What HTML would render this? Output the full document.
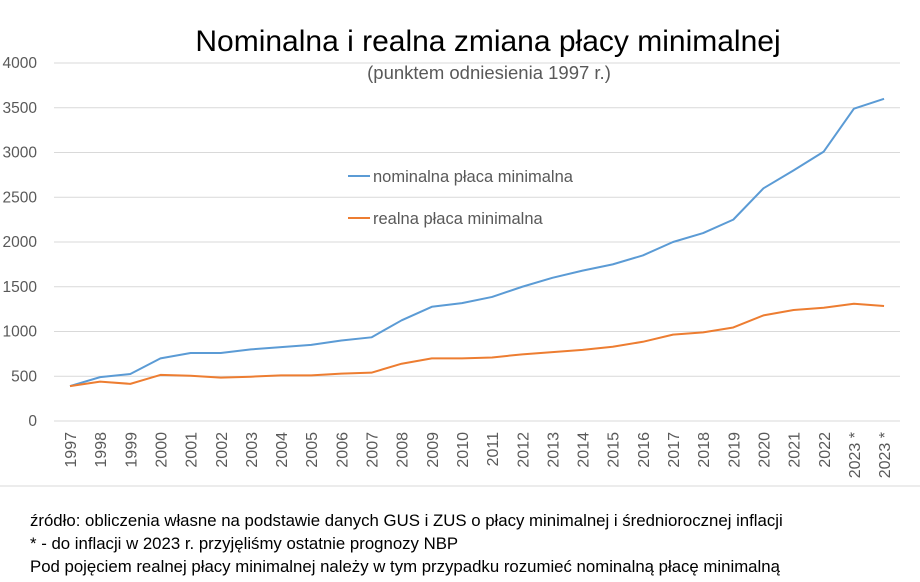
<!DOCTYPE html>
<html><head><meta charset="utf-8">
<style>
body{margin:0;background:#fff;font-family:"Liberation Sans",sans-serif;}
#wrap{position:relative;width:920px;height:582px;overflow:hidden;}
.foot{position:absolute;left:30px;font-size:16.8px;color:#000;white-space:nowrap;}
</style></head>
<body>
<div id="wrap">
<svg id="chart" width="920" height="582"></svg>
<div class="foot" style="top:511px">źródło: obliczenia własne na podstawie danych GUS i ZUS o płacy minimalnej i średniorocznej inflacji</div>
<div class="foot" style="top:534px">* - do inflacji w 2023 r. przyjęliśmy ostatnie prognozy NBP</div>
<div class="foot" style="top:557px">Pod pojęciem realnej płacy minimalnej należy w tym przypadku rozumieć nominalną płacę minimalną</div>
</div>
<script>
const categories=["1997","1998","1999","2000","2001","2002","2003","2004","2005","2006","2007","2008","2009","2010","2011","2012","2013","2014","2015","2016","2017","2018","2019","2020","2021","2022","2023 *","2023 *"];
const nominal=[390,490,525,700,760,760,800,825,850,900,935,1125,1276,1317,1386,1500,1600,1680,1750,1850,2000,2100,2250,2600,2800,3010,3490,3600];
const real=[390,440,415,515,505,485,495,510,510,530,540,640,700,700,710,745,770,795,830,885,965,990,1045,1180,1240,1265,1310,1285];
const yTicks=[0,500,1000,1500,2000,2500,3000,3500,4000];
const NS="http://www.w3.org/2000/svg";
const svg=document.getElementById('chart');
const x=i=>70+i*30.15;
const y=v=>421-v*(358/4000);
function mk(t,a){const e=document.createElementNS(NS,t);for(const k in a)e.setAttribute(k,a[k]);svg.appendChild(e);return e;}
yTicks.forEach(v=>{
 const l=mk('line',{x1:54,x2:900,y1:y(v),y2:y(v),stroke:'#d9d9d9','stroke-width':1});
 
 const tt=mk('text',{x:37,y:y(v)+5,'text-anchor':'end','font-size':15.5,fill:'#595959'});tt.textContent=v;
 
});
let t=mk('text',{x:488,y:51,'text-anchor':'middle','font-size':30,fill:'#000'});t.textContent='Nominalna i realna zmiana płacy minimalnej';

t=mk('text',{x:489,y:79,'text-anchor':'middle','font-size':18.5,fill:'#595959'});t.textContent='(punktem odniesienia 1997 r.)';

categories.forEach((c,i)=>{
 const tt=mk('text',{x:0,y:0,'text-anchor':'end','font-size':16,fill:'#595959',transform:`translate(${x(i)+6},432) rotate(-90)`});tt.textContent=c;
 
});
function line(vals,col,name){
 const p=mk('polyline',{points:vals.map((v,i)=>x(i)+','+y(v)).join(' '),fill:'none',stroke:col,'stroke-width':2,'stroke-linejoin':'round'});
 
}
line(nominal,'#5b9bd5','nominal-series');
line(real,'#ed7d31','real-series');
[['nominalna płaca minimalna','#5b9bd5',176,'legend-nominal'],['realna płaca minimalna','#ed7d31',218,'legend-real']].forEach(d=>{
 const l=mk('line',{x1:348,x2:370,y1:d[2],y2:d[2],stroke:d[1],'stroke-width':2});
 
 const tt=mk('text',{x:373,y:d[2]+6,'font-size':16.5,fill:'#595959'});tt.textContent=d[0];
 
});
const s=mk('line',{x1:0,x2:920,y1:486,y2:486,stroke:'#d9d9d9','stroke-width':1});

</script>
</body></html>
